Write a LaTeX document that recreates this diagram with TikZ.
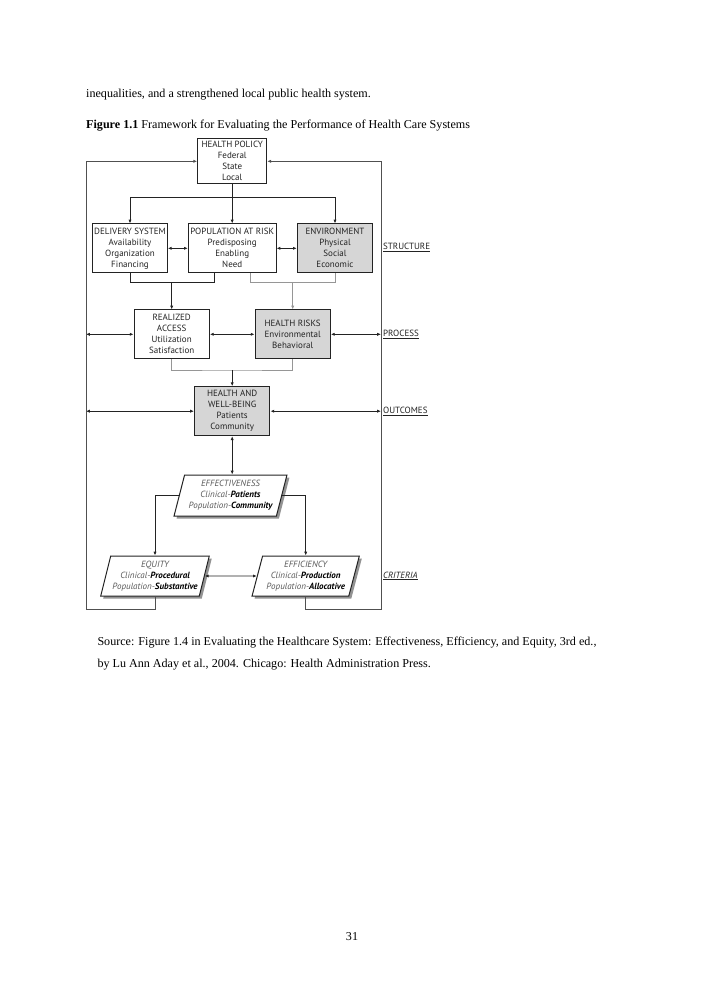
\documentclass[tikz,border=0pt]{standalone}
\usepackage{fontspec}
\setmainfont{Liberation Serif}
\newfontfamily\dinfont{PT Sans}
\usetikzlibrary{arrows.meta,shapes.geometric,shadows}
\definecolor{boxgray}{RGB}{214,214,214}
\definecolor{ink}{RGB}{35,35,35}
\definecolor{loopc}{RGB}{80,80,80}
\definecolor{lgray}{RGB}{150,150,150}
\newcommand{\critlt}[1]{{\color{ink!75}\itshape #1}}
\newcommand{\critbf}[1]{{\color{black}\bfseries\itshape #1}}
\begin{document}
\begin{tikzpicture}[x=1pt,y=-1pt,
  box/.style={draw=ink,line width=1pt,align=center,font=\dinfont\fontsize{9}{11}\selectfont,text=ink,inner sep=1pt},
  shadedbox/.style={box,fill=boxgray},
  para/.style={trapezium,trapezium left angle=73,trapezium right angle=107,trapezium stretches=true,
    draw=ink,line width=1pt,fill=white,align=center,inner sep=1pt,
    font=\dinfont\fontsize{9}{11}\selectfont,text=ink,
    drop shadow={shadow xshift=2.5pt,shadow yshift=-2.5pt,fill=gray!85,opacity=1}},
  conn/.style={draw=ink,line width=0.9pt},
  gconn/.style={draw=lgray,line width=1pt},
  lconn/.style={draw=loopc,line width=1pt},
  arr/.style={-{Latex[length=3.8pt,width=3.2pt]}},
  darr/.style={{Latex[length=3.8pt,width=3.2pt]}-{Latex[length=3.8pt,width=3.2pt]}},
  lab/.style={anchor=west,inner sep=0pt,font=\dinfont\fontsize{9}{10}\selectfont,text=ink},
  body/.style={anchor=base west,inner sep=0pt,font=\fontsize{12.1}{14}\selectfont}
]
\fill[white] (0,0) rectangle (707,1000);
\useasboundingbox (0,0) rectangle (707,1000);

% body text
\node[body] (t1) at (86,97.5) {inequalities, and a strengthened local public health system.};
\node[body] (cap) at (86,129) {\textbf{Figure 1.1} Framework for Evaluating the Performance of Health Care Systems};
\node[body] (src1) at (97.3,645) {Source: Figure 1.4 in Evaluating the Healthcare System: Effectiveness, Efficiency, and Equity, 3rd ed.,};
\node[body] (src2) at (97.3,667.5) {by Lu Ann Aday et al., 2004. Chicago: Health Administration Press.};
\node[anchor=base,inner sep=0pt,font=\fontsize{12.1}{14}\selectfont] (pg) at (352,940) {31};

% boxes
\node[box,minimum width=69pt,minimum height=45.3pt] (policy) at (232.2,161.3) {HEALTH POLICY\\Federal\\State\\Local};
\node[box,minimum width=74.6pt,minimum height=48.7pt] (delivery) at (130,248.3) {DELIVERY SYSTEM\\Availability\\Organization\\Financing};
\node[box,minimum width=87.7pt,minimum height=48.7pt] (population) at (232.2,248.3) {POPULATION AT RISK\\Predisposing\\Enabling\\Need};
\node[shadedbox,minimum width=75.4pt,minimum height=48.7pt] (environment) at (335,248.3) {ENVIRONMENT\\Physical\\Social\\Economic};
\node[box,minimum width=75.3pt,minimum height=48.7pt] (access) at (171.7,334.3) {REALIZED\\ACCESS\\Utilization\\Satisfaction};
\node[shadedbox,minimum width=75.3pt,minimum height=48.7pt] (risks) at (292.7,334.3) {HEALTH RISKS\\Environmental\\Behavioral};
\node[shadedbox,minimum width=75.4pt,minimum height=49pt] (health) at (232.2,411.2) {HEALTH AND\\WELL-BEING\\Patients\\Community};

% criteria
\node[para,minimum width=113pt,minimum height=41pt] (effect) at (230.5,495.5) {\critlt{EFFECTIVENESS}\\\critlt{Clinical-}\critbf{Patients}\\\critlt{Population-}\critbf{Community}};
\node[para,minimum width=108.6pt,minimum height=40pt] (equity) at (155,576) {\critlt{EQUITY}\\\critlt{Clinical-}\critbf{Procedural}\\\critlt{Population-}\critbf{Substantive}};
\node[para,minimum width=108.3pt,minimum height=40pt] (efficiency) at (305.7,576) {\critlt{EFFICIENCY}\\\critlt{Clinical-}\critbf{Production}\\\critlt{Population-}\critbf{Allocative}};

% labels
\node[lab] (structure) at (383,247.7) {\underline{STRUCTURE}};
\node[lab] (process) at (383,334.3) {\underline{PROCESS}};
\node[lab] (outcomes) at (383,411.2) {\underline{OUTCOMES}};
\node[lab] (criteria) at (383,576) {\underline{\itshape CRITERIA}};

% coordinates
\coordinate (split) at (232.2,197.3);
\coordinate (b1) at (171.7,282.5);
\coordinate (b2) at (292.7,282.5);
\coordinate (b3) at (232.2,370);
\coordinate (Lproc) at (86,334.3);
\coordinate (Rproc) at (381,334.3);
\coordinate (Lout) at (86,411.2);
\coordinate (Rout) at (381,411.2);
\coordinate (LB) at (86,609);
\coordinate (RB) at (381,609);

% connectors
\draw[conn,arr] (policy) -- (population);
\draw[conn,arr] (split) -| (delivery.north);
\draw[conn,arr] (split) -| (environment.north);
\draw[conn,darr] (delivery) -- (population);
\draw[conn,darr] (population) -- (environment);

\draw[conn] (delivery.south) |- (b1) -| ([xshift=26.7pt]population.south west);
\draw[conn,arr] (b1) -- (access.north);
\draw[gconn] ([xshift=-26pt]population.south east) |- (b2) -| (environment.south);
\draw[gconn,arr] (b2) -- (risks.north);

\draw[conn,darr] (Lproc) -- (access.west);
\draw[conn,darr] (access) -- (risks);
\draw[conn,darr] (risks.east) -- (Rproc);

\draw[gconn] (access.south) |- (b3) -| (risks.south);
\draw[conn,arr] (b3) -- (health.north);

\draw[conn,darr] (Lout) -- (health.west);
\draw[conn,darr] (health.east) -- (Rout);
\draw[conn,darr] (health.south) -- (health.south |- effect.north);

\draw[conn,arr] (effect.west) -| (equity.north);
\draw[conn,arr] (effect.east) -| (efficiency.north);
\draw[conn,darr] (equity.east) -- (efficiency.west);

\draw[lconn,arr] (equity.south) |- (LB) |- (policy.west);
\draw[lconn,arr] (efficiency.south) |- (RB) |- (policy.east);
\end{tikzpicture}
\end{document}
